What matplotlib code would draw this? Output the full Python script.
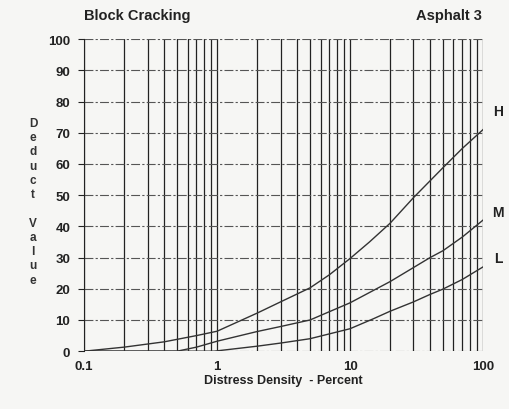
import matplotlib
matplotlib.use("Agg")
import matplotlib.pyplot as plt

plt.rcParams['font.family'] = ['Liberation Sans', 'DejaVu Sans']

h_x = [0.1, 0.2, 0.4, 0.7, 1, 2, 3, 5, 7, 10, 14, 20, 30, 50, 70, 100]
h_values = [0, 1.3, 3, 5, 6.4, 12.2, 15.8, 20.3, 24.5, 29.7, 35, 41, 49.2, 58.8, 65, 71]
m_x = [0.1, 0.5, 0.7, 1, 2, 3, 5, 10, 20, 30, 40, 50, 70, 100]
m_values = [0, 0, 1.3, 3.2, 6.3, 7.9, 10, 15.5, 22.3, 26.8, 30, 32.2, 36.6, 42]
l_x = [0.1, 0.95, 2, 3, 5, 10, 15, 20, 30, 40, 50, 70, 100]
l_values = [0, 0, 1.6, 2.6, 4, 7.2, 10.4, 12.8, 15.8, 18.2, 19.9, 23, 27]
y_ticks = [0, 10, 20, 30, 40, 50, 60, 70, 80, 90, 100]
x_ticks = [0.1, 1, 10, 100]
x_ticklabels = ['0.1', '1', '10', '100']

bg = '#f6f6f4'
fig = plt.figure(figsize=(5.1, 4.1), dpi=100, facecolor=bg)
ax = fig.add_axes([0.165, 0.141, 0.782, 0.761])
ax.set_facecolor(bg)

ax.set_xscale('log')
ax.set_xlim(0.1, 100)
ax.set_ylim(0, 100)

for dec in [0.1, 1, 10]:
    for k in range(1, 10):
        ax.axvline(dec * k, color='#222222', lw=0.9, zorder=1)
ax.axvline(100, color='#222222', lw=0.9, zorder=1)
for yv in y_ticks:
    ax.axhline(yv, color='#555555', lw=0.8, ls=(0, (8, 2, 2, 2)), zorder=1)

ax.plot(h_x, h_values, color='#333333', lw=1.0, zorder=3)
ax.plot(m_x, m_values, color='#333333', lw=1.0, zorder=3)
ax.plot(l_x, l_values, color='#333333', lw=1.0, zorder=3)

for sp in ['top', 'right', 'bottom']:
    ax.spines[sp].set_visible(False)
ax.spines['left'].set_color('#222222')

ax.set_yticks(y_ticks)
ax.set_xticks(x_ticks)
ax.set_xticklabels(x_ticklabels)
ax.xaxis.set_minor_locator(matplotlib.ticker.NullLocator())
ax.tick_params(axis='both', length=0, labelsize=9.5, colors='#222222', pad=6)
ax.tick_params(axis='y', length=4, direction='out')
for lab in ax.get_yticklabels() + ax.get_xticklabels():
    lab.set_fontweight('bold')

ax.set_xlabel('Distress Density  - Percent', fontsize=9, fontweight='bold', color='#222222', labelpad=2)

fig.text(0.165, 0.945, 'Block Cracking', fontsize=10.5, fontweight='bold', color='#222222', ha='left', va='bottom')
fig.text(0.945, 0.945, 'Asphalt 3', fontsize=10.5, fontweight='bold', color='#222222', ha='right', va='bottom')

fig.text(0.065, 0.507, 'D\ne\nd\nu\nc\nt\n\nV\na\nl\nu\ne', fontsize=8.5, fontweight='bold',
         color='#333333', ha='center', va='center', linespacing=1.25)

for txt, yv in [('H', 77), ('M', 44.5), ('L', 30)]:
    ax.text(130, yv, txt, fontsize=10, fontweight='bold', color='#222222', ha='center', va='center', clip_on=False)

fig.savefig('out.png', dpi=100, facecolor=bg)
